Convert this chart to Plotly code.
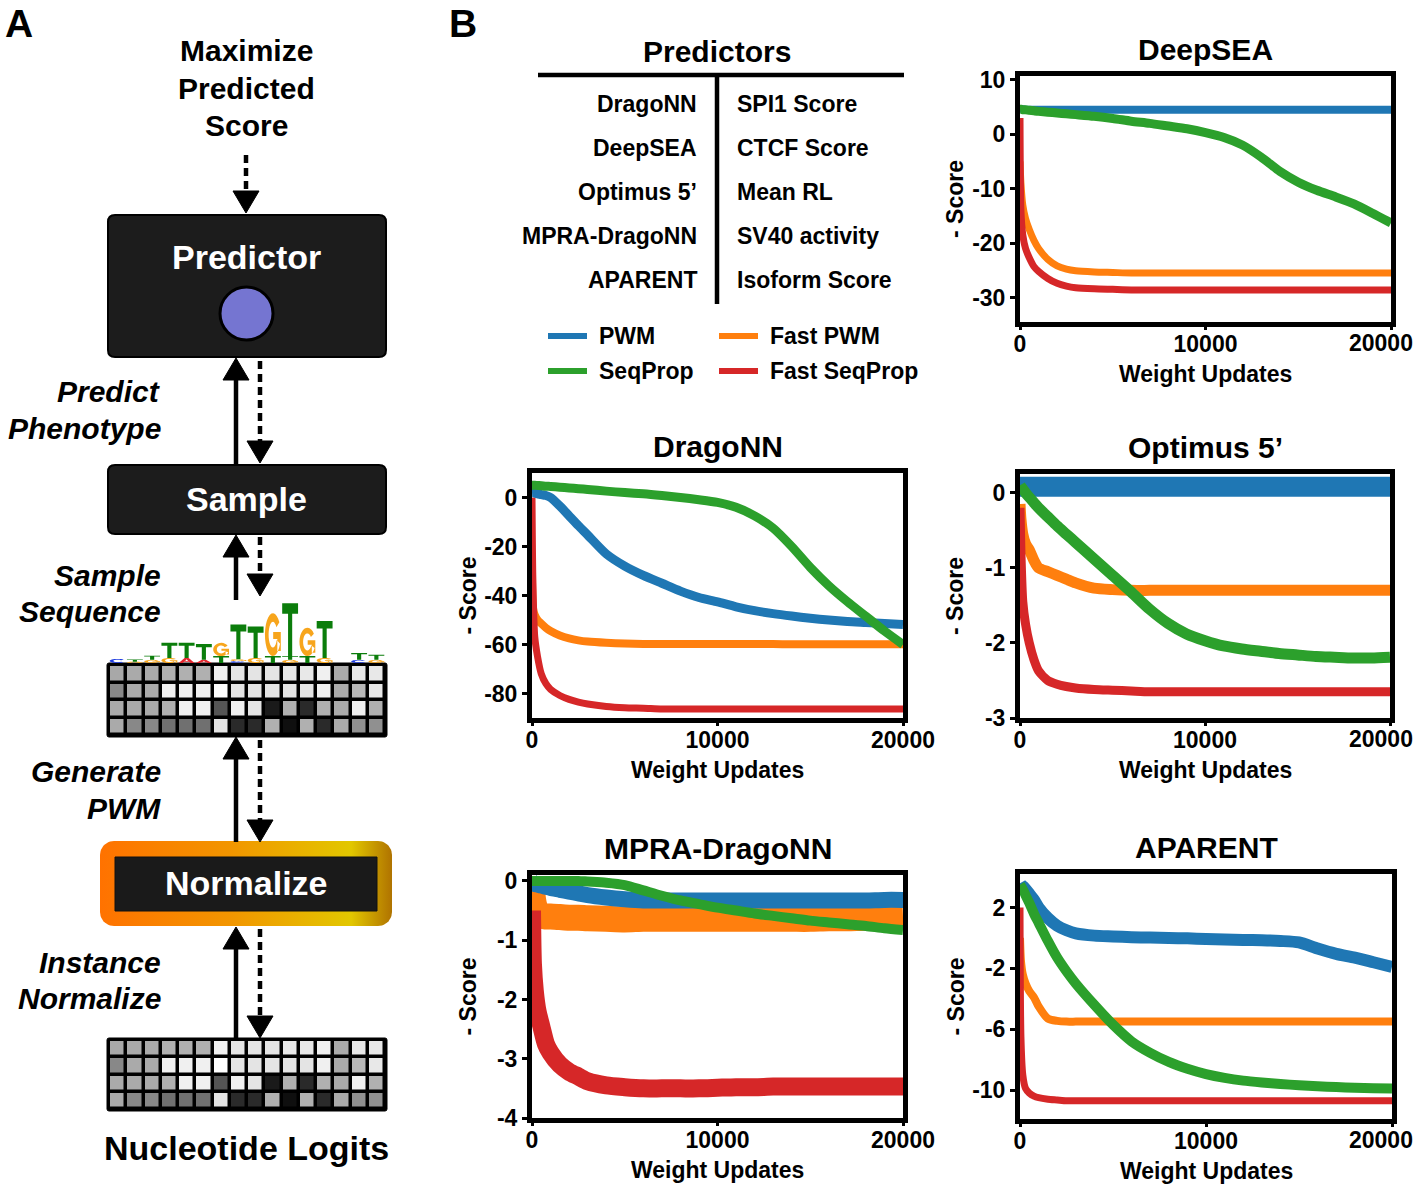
import numpy as np
import plotly.graph_objects as go

W, H = 1416, 1187
FONT = "Liberation Sans"

# ---------------- data ----------------
WEIGHT_UPDATES = [0, 50, 150, 300, 500, 750, 1000, 1500, 2000, 2500, 3000, 4000, 5000, 6000,
                  7000, 8000, 9000, 10000, 11000, 12000, 13000, 14000, 15000, 16000, 17000,
                  18000, 19000, 20000]

SERIES_NAMES = ["PWM", "SeqProp", "Fast PWM", "Fast SeqProp"]
SERIES_COLORS = ["#1f77b4", "#2ca02c", "#ff7f0e", "#d62728"]

DEEPSEA_PWM = [4.8, 4.7, 4.6, 4.5, 4.5, 4.5, 4.5, 4.5, 4.5, 4.5, 4.5, 4.5, 4.5, 4.5, 4.5, 4.5,
               4.5, 4.5, 4.5, 4.5, 4.5, 4.5, 4.5, 4.5, 4.5, 4.5, 4.5, 4.5]
DEEPSEA_SEQPROP = [4.6, 4.6, 4.5, 4.5, 4.4, 4.3, 4.2, 4.05, 3.9, 3.75, 3.6, 3.3, 2.9, 2.4, 2.0,
                   1.5, 1.0, 0.3, -0.6, -2.0, -4.2, -6.8, -8.8, -10.3, -11.5, -12.8, -14.5, -16.3]
DEEPSEA_FAST_PWM = [-5, -9, -13, -15.5, -17.5, -19.5, -21, -23, -24.2, -24.8, -25.1, -25.3, -25.4,
                    -25.5, -25.5, -25.5, -25.5, -25.5, -25.5, -25.5, -25.5, -25.5, -25.5, -25.5,
                    -25.5, -25.5, -25.5, -25.5]
DEEPSEA_FAST_SEQPROP = [3, -14, -18.5, -21, -22.7, -24.3, -25.2, -26.5, -27.4, -27.9, -28.2, -28.4,
                        -28.5, -28.6, -28.6, -28.6, -28.6, -28.6, -28.6, -28.6, -28.6, -28.6,
                        -28.6, -28.6, -28.6, -28.6, -28.6, -28.6]

DRAGONN_PWM = [2, 2, 1.8, 1.5, 1.2, 0.8, 0, -3.5, -7.5, -11.5, -15.3, -23, -28, -31.8, -35, -38.2,
               -40.8, -42.6, -44.6, -46.2, -47.4, -48.4, -49.3, -50, -50.6, -51, -51.4, -51.8]
DRAGONN_SEQPROP = [5, 5, 5, 4.9, 4.8, 4.6, 4.5, 4.2, 3.9, 3.6, 3.3, 2.6, 2, 1.5, 0.8, 0, -0.9, -2,
                   -4, -7.5, -12.5, -20, -28.5, -36, -42.5, -48.5, -54.5, -60]
DRAGONN_FAST_PWM = [-30, -45, -48, -50, -51.5, -53.2, -54.5, -56.3, -57.5, -58.3, -58.8, -59.3,
                    -59.6, -59.8, -59.8, -59.8, -59.8, -59.8, -59.8, -59.8, -59.8, -59.9, -59.9,
                    -59.9, -59.9, -59.9, -59.9, -59.9]
DRAGONN_FAST_SEQPROP = [0, -35, -57, -65, -72, -76, -78.3, -80.8, -82.4, -83.5, -84.3, -85.3,
                        -85.8, -86, -86.3, -86.3, -86.3, -86.3, -86.3, -86.3, -86.3, -86.3,
                        -86.3, -86.3, -86.3, -86.3, -86.3, -86.3]

OPTIMUS_PWM = [0.08, 0.08, 0.08, 0.08, 0.08, 0.08, 0.08, 0.08, 0.08, 0.08, 0.08, 0.08, 0.08, 0.08,
               0.08, 0.08, 0.08, 0.08, 0.08, 0.08, 0.08, 0.08, 0.08, 0.08, 0.08, 0.08, 0.08, 0.08]
OPTIMUS_SEQPROP = [0.1, 0.08, 0.05, 0.0, -0.06, -0.13, -0.2, -0.32, -0.44, -0.55, -0.66, -0.88,
                   -1.1, -1.32, -1.55, -1.74, -1.88, -1.97, -2.04, -2.08, -2.11, -2.14, -2.16,
                   -2.18, -2.19, -2.2, -2.2, -2.19]
OPTIMUS_FAST_PWM = [-0.15, -0.35, -0.55, -0.68, -0.76, -0.9, -1.0, -1.05, -1.1, -1.15, -1.2, -1.27,
                    -1.29, -1.3, -1.3, -1.3, -1.3, -1.3, -1.3, -1.3, -1.3, -1.3, -1.3, -1.3, -1.3,
                    -1.3, -1.3, -1.3]
OPTIMUS_FAST_SEQPROP = [-0.2, -0.8, -1.45, -1.75, -2.0, -2.22, -2.37, -2.5, -2.55, -2.58, -2.6,
                        -2.62, -2.63, -2.64, -2.65, -2.65, -2.65, -2.65, -2.65, -2.65, -2.65,
                        -2.65, -2.65, -2.65, -2.65, -2.65, -2.65, -2.65]

MPRA_PWM = [-0.02, -0.03, -0.05, -0.06, -0.08, -0.1, -0.12, -0.15, -0.18, -0.21, -0.24, -0.28,
            -0.31, -0.33, -0.33, -0.33, -0.33, -0.33, -0.33, -0.33, -0.33, -0.33, -0.33, -0.33,
            -0.33, -0.33, -0.32, -0.32]
MPRA_SEQPROP = [0, 0, 0, 0, 0, 0, 0, 0, 0, 0, -0.01, -0.03, -0.07, -0.16, -0.25, -0.33, -0.39,
                -0.45, -0.5, -0.55, -0.59, -0.63, -0.67, -0.7, -0.73, -0.76, -0.8, -0.83]
MPRA_FAST_PWM = [-0.1, -0.3, -0.45, -0.55, -0.58, -0.6, -0.6, -0.61, -0.62, -0.62, -0.63, -0.64,
                 -0.65, -0.64, -0.64, -0.64, -0.64, -0.64, -0.64, -0.64, -0.64, -0.64, -0.64,
                 -0.63, -0.63, -0.62, -0.62, -0.61]
MPRA_FAST_SEQPROP = [-0.5, -1.4, -1.85, -2.2, -2.45, -2.75, -2.9, -3.1, -3.22, -3.3, -3.38, -3.45,
                     -3.48, -3.5, -3.5, -3.5, -3.5, -3.49, -3.48, -3.48, -3.47, -3.47, -3.47,
                     -3.47, -3.47, -3.47, -3.47, -3.47]

APARENT_PWM = [3.6, 3.5, 3.4, 3.2, 2.9, 2.5, 2.0, 1.3, 0.8, 0.5, 0.3, 0.15, 0.1, 0.05, 0.02, 0,
               -0.03, -0.07, -0.1, -0.13, -0.15, -0.2, -0.3, -0.7, -1.05, -1.3, -1.6, -1.9]
APARENT_SEQPROP = [3.5, 3.4, 3.2, 2.8, 2.3, 1.6, 1.0, -0.2, -1.3, -2.2, -3.0, -4.4, -5.7, -6.8,
                   -7.55, -8.15, -8.6, -8.95, -9.2, -9.38, -9.5, -9.6, -9.68, -9.75, -9.8, -9.85,
                   -9.88, -9.9]
APARENT_FAST_PWM = [0, -1.5, -2.4, -3.0, -3.5, -3.9, -4.5, -5.3, -5.45, -5.5, -5.5, -5.5, -5.5,
                    -5.5, -5.5, -5.5, -5.5, -5.5, -5.5, -5.5, -5.5, -5.5, -5.5, -5.5, -5.5, -5.5,
                    -5.5, -5.5]
APARENT_FAST_SEQPROP = [2, -6.5, -9, -9.9, -10.2, -10.4, -10.5, -10.6, -10.65, -10.7, -10.7,
                        -10.7, -10.7, -10.7, -10.7, -10.7, -10.7, -10.7, -10.7, -10.7, -10.7,
                        -10.7, -10.7, -10.7, -10.7, -10.7, -10.7, -10.7]

PANEL_TITLES = ["DeepSEA", "DragoNN", "Optimus 5\u2019", "MPRA-DragoNN", "APARENT"]
X_TICKS = [0, 10000, 20000]
X_TICK_LABELS = ["0", "10000", "20000"]
Y_TICKS = [[10, 0, -10, -20, -30], [0, -20, -40, -60, -80], [0, -1, -2, -3],
           [0, -1, -2, -3, -4], [2, -2, -6, -10]]
Y_RANGES = [[-34.5, 10.7], [-90, 10], [-3, 0.25], [-4, 0.1], [-11.9, 4.2]]

PREDICTOR_NAMES = ["DragoNN", "DeepSEA", "Optimus 5\u2019", "MPRA-DragoNN", "APARENT"]
PREDICTOR_TARGETS = ["SPI1 Score", "CTCF Score", "Mean RL", "SV40 activity", "Isoform Score"]

# grayscale of the 4 x 16 logit / PWM grid (0 = black, 255 = white)
GRID_CELLS = [
    [168, 170, 170, 176, 176, 176, 240, 228, 228, 228, 232, 232, 240, 170, 232, 232],
    [136, 170, 170, 240, 240, 240, 255, 228, 228, 228, 228, 228, 240, 170, 184, 232],
    [170, 170, 170, 176, 240, 240, 85, 240, 228, 26, 176, 42, 176, 170, 240, 176],
    [170, 136, 136, 112, 112, 112, 228, 42, 42, 176, 15, 176, 42, 170, 144, 144],
]

# sequence logo: per column, letters stacked from bottom with heights in bits
LOGO_COLUMNS = [
    [("C", 0.13)],
    [("G", 0.04), ("T", 0.07)],
    [("G", 0.1), ("T", 0.13)],
    [("G", 0.16), ("T", 0.48)],
    [("A", 0.16), ("T", 0.48)],
    [("A", 0.1), ("T", 0.5)],
    [("T", 0.22), ("G", 0.42)],
    [("C", 0.06), ("G", 0.06), ("T", 1.1)],
    [("G", 0.16), ("T", 1.0)],
    [("T", 0.22), ("G", 1.36)],
    [("G", 0.1), ("T", 0.12), ("T", 1.68)],
    [("T", 0.22), ("G", 0.9)],
    [("G", 0.16), ("T", 1.17)],
    [],
    [("C", 0.1), ("T", 0.22)],
    [("G", 0.1), ("T", 0.16)],
]
LETTER_COLORS = {"A": "#e3262e", "C": "#1f3de0", "G": "#f7a51c", "T": "#0b7d0b"}

# ---------------- helpers ----------------
def fx(px):
    return px / W


def fy(py):
    return 1 - py / H


fig = go.Figure()
shapes = []
annotations = []


def ann(text, x, y, size, xanchor="center", color="black", italic=False, angle=0,
        yanchor="middle"):
    annotations.append(dict(
        text=text, x=fx(x), y=fy(y), xref="paper", yref="paper", showarrow=False,
        xanchor=xanchor, yanchor=yanchor, textangle=angle,
        font=dict(family=FONT, size=size, color=color, weight="bold",
                  style="italic" if italic else "normal")))


# ---------------- panel B line charts ----------------
PANEL_DATA = [
    [DEEPSEA_PWM, DEEPSEA_SEQPROP, DEEPSEA_FAST_PWM, DEEPSEA_FAST_SEQPROP],
    [DRAGONN_PWM, DRAGONN_SEQPROP, DRAGONN_FAST_PWM, DRAGONN_FAST_SEQPROP],
    [OPTIMUS_PWM, OPTIMUS_SEQPROP, OPTIMUS_FAST_PWM, OPTIMUS_FAST_SEQPROP],
    [MPRA_PWM, MPRA_SEQPROP, MPRA_FAST_PWM, MPRA_FAST_SEQPROP],
    [APARENT_PWM, APARENT_SEQPROP, APARENT_FAST_PWM, APARENT_FAST_SEQPROP],
]
# band widths (px) imitating the noisy traces: PWM, SeqProp, Fast PWM, Fast SeqProp
LINE_WIDTHS = [[8, 9, 7, 7], [9, 9, 8, 7], [20, 11, 11, 9], [16, 10, 26, 18], [12, 10, 8, 7]]
# frame boxes in pixels: left, right, top, bottom
FRAMES = [(1020, 1391, 76, 322), (532, 903, 473, 718), (1020, 1390, 474, 718),
          (532, 903, 875, 1118), (1020, 1392, 874, 1119)]
DRAW_ORDER = [2, 3, 0, 1]

layout_axes = {}
for p in range(5):
    ax = "" if p == 0 else str(p + 1)
    for s in DRAW_ORDER:
        fig.add_trace(go.Scatter(
            x=WEIGHT_UPDATES, y=PANEL_DATA[p][s], mode="lines", name=SERIES_NAMES[s],
            line=dict(color=SERIES_COLORS[s], width=LINE_WIDTHS[p][s], shape="spline",
                      smoothing=0.7),
            xaxis="x" + ax, yaxis="y" + ax, showlegend=False, hoverinfo="skip"))
    l, r, t, b = FRAMES[p]
    common = dict(showline=True, linewidth=5, linecolor="black", mirror=True,
                  ticks="outside", tickwidth=3, tickcolor="black", showgrid=False,
                  zeroline=False, automargin=False, ticklabeloverflow="allow",
                  tickfont=dict(family=FONT, size=23, color="black", weight="bold"))
    at_right_edge = r + 32 > W
    xt = list(X_TICK_LABELS)
    if at_right_edge:
        # the last label would run past the page edge: keep it whole, flush to the edge
        xt[-1] = ""
        ann(X_TICK_LABELS[-1], W - 1, b + 21, 23, xanchor="right")
    layout_axes["xaxis" + ax] = dict(domain=[fx(l), fx(r)], range=[0, 20000],
                                     tickvals=X_TICKS, ticktext=xt, ticklen=3,
                                     ticklabelstandoff=-6, anchor="y" + ax, **common)
    layout_axes["yaxis" + ax] = dict(domain=[fy(b), fy(t)], range=Y_RANGES[p],
                                     tickvals=Y_TICKS[p], ticktext=[str(v) for v in Y_TICKS[p]],
                                     ticklen=5, anchor="x" + ax, **common)
    cx = (l + r) / 2
    ann(PANEL_TITLES[p], cx, t - 27, 30)
    ann("Weight Updates", cx, b + 52, 23)
    ann("- Score", l - 65, (t + b) / 2, 23, angle=-90)

# ---------------- predictors table & legend ----------------
ann("Predictors", 717, 51, 30)
shapes.append(dict(type="line", xref="paper", yref="paper", x0=fx(538), x1=fx(904),
                   y0=fy(75), y1=fy(75), line=dict(color="black", width=4.5)))
shapes.append(dict(type="line", xref="paper", yref="paper", x0=fx(717), x1=fx(717),
                   y0=fy(75), y1=fy(304), line=dict(color="black", width=4.5)))
for i, (nm, tg) in enumerate(zip(PREDICTOR_NAMES, PREDICTOR_TARGETS)):
    yy = 104 + i * 44
    ann(nm, 699, yy, 23, xanchor="right")
    ann(tg, 735, yy, 23, xanchor="left")

legend_pos = [(548, 336), (548, 371), (719, 336), (719, 371)]
legend_series = [0, 1, 2, 3]
for (lx, ly), s in zip(legend_pos, legend_series):
    shapes.append(dict(type="line", xref="paper", yref="paper", x0=fx(lx), x1=fx(lx + 39),
                       y0=fy(ly), y1=fy(ly), line=dict(color=SERIES_COLORS[s], width=6)))
    ann(SERIES_NAMES[s], lx + 49, ly, 23, xanchor="left")

# ---------------- panel A diagram (pixel canvas x6/y6) ----------------
def rrect_path(x0, y0, x1, y1, r):
    return (f"M{x0 + r},{y0} L{x1 - r},{y0} Q{x1},{y0} {x1},{y0 + r} L{x1},{y1 - r} "
            f"Q{x1},{y1} {x1 - r},{y1} L{x0 + r},{y1} Q{x0},{y1} {x0},{y1 - r} "
            f"L{x0},{y0 + r} Q{x0},{y0} {x0 + r},{y0} Z")


def rrect_points(x0, y0, x1, y1, r, n=12):
    pts = []
    corners = [(x1 - r, y0 + r, -90, 0), (x1 - r, y1 - r, 0, 90),
               (x0 + r, y1 - r, 90, 180), (x0 + r, y0 + r, 180, 270)]
    for cx, cy, a0, a1 in corners:
        for a in np.linspace(np.radians(a0), np.radians(a1), n):
            pts.append((cx + r * np.cos(a), cy + r * np.sin(a)))
    pts.append(pts[0])
    return [p[0] for p in pts], [p[1] for p in pts]


def canvas_shape(**kw):
    d = dict(xref="x6", yref="y6", layer="above")
    d.update(kw)
    shapes.append(d)


def arrow(x, y_from, y_tip, dotted):
    d = 1 if y_tip > y_from else -1
    head = 22
    base = y_tip - d * head
    canvas_shape(type="line", x0=x, x1=x, y0=y_from, y1=base,
                 line=dict(color="black", width=4.5, dash="8px,5px" if dotted else "solid"))
    canvas_shape(type="path", path=f"M{x - 13},{base} L{x + 13},{base} L{x},{y_tip} Z",
                 fillcolor="black", line=dict(color="black", width=1))


# normalize box gradient frame
gx, gy = rrect_points(100, 841, 392, 926, 14)
fig.add_trace(go.Scatter(
    x=gx, y=gy, mode="lines", fill="toself", line=dict(width=0, color="rgba(0,0,0,0)"),
    fillgradient=dict(type="horizontal",
                      colorscale=[[0, "#ff7200"], [0.45, "#f29600"], [0.86, "#e2c700"],
                                  [1, "#b07300"]]),
    xaxis="x6", yaxis="y6", showlegend=False, hoverinfo="skip"))

canvas_shape(type="path", path=rrect_path(108, 215, 386, 357, 7), fillcolor="#1c1c1c",
             line=dict(color="black", width=2))
canvas_shape(type="circle", x0=220, y0=287, x1=273, y1=340, fillcolor="#7575d1",
             line=dict(color="black", width=3))
canvas_shape(type="path", path=rrect_path(108, 465, 386, 534, 7), fillcolor="#1c1c1c",
             line=dict(color="black", width=2))
canvas_shape(type="rect", x0=115, y0=857, x1=377, y1=911, fillcolor="#1a1a1a",
             line=dict(color="#111111", width=1))
# black backgrounds of the two grids
for (gy0, gy1) in [(663, 737), (1038, 1111)]:
    canvas_shape(type="path", path=rrect_path(107, gy0, 387, gy1, 2), fillcolor="black",
                 line=dict(color="black", width=1), layer="below")

arrow(246, 155, 213, True)
arrow(236, 465, 358, False)
arrow(260, 361, 463, True)
arrow(236, 600, 535, False)
arrow(260, 537, 596, True)
arrow(236, 842, 737, False)
arrow(260, 740, 842, True)
arrow(236, 1038, 927, False)
arrow(260, 929, 1038, True)

ann("A", 3, 0, 39, xanchor="left", yanchor="top")
ann("B", 447, 0, 39, xanchor="left", yanchor="top")
ann("Maximize", 246, 50, 30)
ann("Predicted", 246, 88, 30)
ann("Score", 246, 125, 30)
ann("Predictor", 247, 257, 34, color="white")
ann("Sample", 247, 499, 34, color="white")
ann("Normalize", 247, 883, 34, color="white")
ann("Nucleotide Logits", 246, 1148, 34)
for (t1, t2, y1) in [("Predict", "Phenotype", 391), ("Sample", "Sequence", 575),
                     ("Generate", "PWM", 771), ("Instance", "Normalize", 962)]:
    ann(t1, 163, y1, 30, xanchor="right", italic=True)
    ann(t2, 163, y1 + 37, 30, xanchor="right", italic=True)

layout_axes["xaxis6"] = dict(domain=[0, fx(420)], range=[0, 420], visible=False,
                             anchor="y6", fixedrange=True, automargin=False)
layout_axes["yaxis6"] = dict(domain=[0, 1], range=[H, 0], visible=False, anchor="x6",
                             fixedrange=True, automargin=False)

# ---------------- grids (heatmaps) ----------------
for k, (ax, (ty, by)) in enumerate(zip(["7", "8"], [(665, 735), (1040, 1109)])):
    fig.add_trace(go.Heatmap(
        z=GRID_CELLS, colorscale=[[0, "black"], [1, "white"]], zmin=0, zmax=255,
        showscale=False, xgap=3.5, ygap=3.5, xaxis="x" + ax, yaxis="y" + ax,
        hoverinfo="skip"))
    layout_axes["xaxis" + ax] = dict(domain=[fx(109), fx(385)], range=[-0.5, 15.5],
                                     visible=False, anchor="y" + ax, automargin=False)
    layout_axes["yaxis" + ax] = dict(domain=[fy(by), fy(ty)], range=[3.5, -0.5],
                                     visible=False, anchor="x" + ax, automargin=False)

# ---------------- sequence logo ----------------
def glyph(letter):
    """Return list of polygons (unit box, y up) for a letter."""
    if letter == "T":
        return [[(0, 1), (1, 1), (1, 0.8), (0.63, 0.8), (0.63, 0), (0.37, 0), (0.37, 0.8),
                 (0, 0.8)]]
    if letter == "A":
        return [[(0, 0), (0.37, 1), (0.63, 1), (1, 0), (0.75, 0), (0.66, 0.24), (0.34, 0.24),
                 (0.25, 0)],
                [(0.41, 0.42), (0.59, 0.42), (0.5, 0.72)]]
    a0, a1 = (40, 320) if letter == "C" else (35, 335)
    ang = np.radians(np.linspace(a0, a1, 24))
    outer = [(0.5 + 0.5 * np.cos(a), 0.5 + 0.5 * np.sin(a)) for a in ang]
    inner = [(0.5 + 0.27 * np.cos(a), 0.5 + 0.3 * np.sin(a)) for a in ang[::-1]]
    polys = [outer + inner]
    if letter == "G":
        polys.append([(0.52, 0.56), (1.0, 0.56), (1.0, 0.12), (0.78, 0.12), (0.78, 0.4),
                      (0.52, 0.4)])
    return polys


for ci, column in enumerate(LOGO_COLUMNS):
    base = 0.0
    for letter, h in column:
        x0, x1 = ci - 0.46, ci + 0.46
        parts = []
        for poly in glyph(letter):
            pts = [f"{x0 + u * (x1 - x0):.4f},{base + v * h:.4f}" for u, v in poly]
            parts.append("M" + " L".join(pts) + " Z")
        shapes.append(dict(type="path", path=" ".join(parts), xref="x9", yref="y9",
                           fillcolor=LETTER_COLORS[letter], line=dict(width=0),
                           layer="above"))
        base += h

fig.add_trace(go.Scatter(x=[0], y=[0], mode="markers", marker=dict(opacity=0),
                         xaxis="x9", yaxis="y9", showlegend=False, hoverinfo="skip"))
layout_axes["xaxis9"] = dict(domain=[fx(109), fx(385)], range=[-0.5, 15.5], visible=False,
                             anchor="y9", automargin=False)
layout_axes["yaxis9"] = dict(domain=[fy(663), fy(600)], range=[0, 2], visible=False,
                             anchor="x9", automargin=False)

fig.update_layout(
    width=W, height=H, autosize=False,
    margin=dict(l=0, r=0, t=0, b=0, pad=0, autoexpand=False),
    paper_bgcolor="white", plot_bgcolor="rgba(0,0,0,0)", showlegend=False,
    font=dict(family=FONT, color="black"), shapes=shapes, annotations=annotations,
    **layout_axes)

POST = (
    "var de=document.documentElement, bd=document.body;"
    "de.style.margin='0'; de.style.padding='0'; de.style.overflow='hidden';"
    "bd.style.margin='0'; bd.style.padding='0'; bd.style.overflow='hidden';"
)

fig.write_html("out.html", config={"displayModeBar": False}, post_script=POST)
